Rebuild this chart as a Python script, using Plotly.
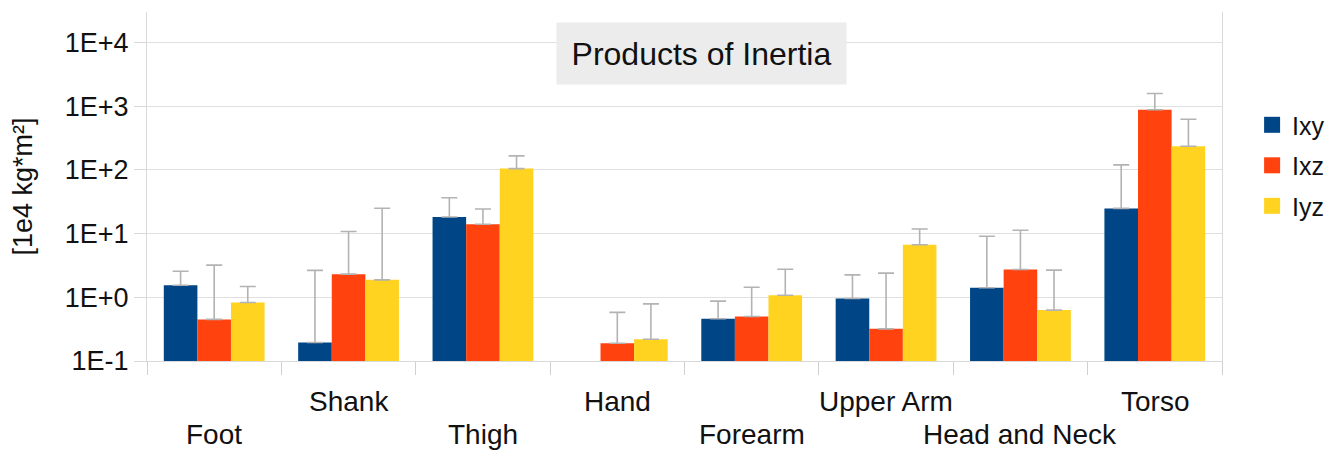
import plotly.graph_objects as go

categories = ["Foot", "Shank", "Thigh", "Hand", "Forearm", "Upper Arm", "Head and Neck", "Torso"]
series_names = ["Ixy", "Ixz", "Iyz"]
ixy = [1.55, 0.195, 18.2, None, 0.46, 0.96, 1.41, 24.9]
ixz = [0.45, 2.31, 14.0, 0.19, 0.50, 0.32, 2.74, 883]
iyz = [0.83, 1.88, 105, 0.22, 1.08, 6.7, 0.63, 235]
ixy_err_top = [2.57, 2.65, 36.5, None, 0.87, 2.25, 9.1, 120]
ixz_err_top = [3.2, 10.8, 24.3, 0.58, 1.44, 2.4, 11.3, 1585]
iyz_err_top = [1.48, 25, 166, 0.79, 2.76, 11.8, 2.67, 624]
colors = ["#004586", "#ff420e", "#ffd320"]
ytick_vals = [0.1, 1, 10, 100, 1000, 10000]
ytick_text = ["1E-1", "1E+0", "1E+1", "1E+2", "1E+3", "1E+4"]

FONT = "Liberation Sans, Arial, sans-serif"
TXT = "#111111"

fig = go.Figure()
values = [ixy, ixz, iyz]
tops = [ixy_err_top, ixz_err_top, iyz_err_top]
for name, vals, top, col in zip(series_names, values, tops, colors):
    plus = [(t - v) if (t is not None and v is not None) else None for v, t in zip(vals, top)]
    fig.add_trace(go.Bar(
        x=categories, y=vals, name=name, marker=dict(color=col, line=dict(width=0)),
        showlegend=False,
        error_y=dict(type="data", symmetric=False, array=plus,
                     arrayminus=[0] * len(vals), color="#b3b3b3", thickness=1.6, width=8),
    ))
    # legend entry
    fig.add_trace(go.Scatter(
        x=[None], y=[None], mode="markers", name=name, legendgroup=name,
        marker=dict(symbol="square", size=17, color=col),
    ))

# staggered category labels
for i, cat in enumerate(categories):
    fig.add_annotation(
        x=cat, xref="x", y=(-0.115 if i % 2 else -0.21), yref="paper",
        text=cat, showarrow=False, yanchor="middle",
        font=dict(family=FONT, size=28, color=TXT),
    )

fig.add_annotation(
    x=0.516, xref="paper", y=0.881, yref="paper", text="Products of Inertia",
    showarrow=False, xanchor="center", yanchor="middle",
    bgcolor="#ececec", width=285, height=57, borderpad=2,
    font=dict(family=FONT, size=32, color=TXT),
)

fig.update_layout(
    width=1333, height=444,
    margin=dict(l=139, r=119, t=4, b=91),
    paper_bgcolor="white", plot_bgcolor="white",
    barmode="group", bargap=0.25, bargroupgap=0,
    font=dict(family=FONT, size=27, color=TXT),
    legend=dict(x=1.028, xanchor="left", y=0.56, yanchor="middle",
                font=dict(family=FONT, size=25, color=TXT),
                tracegroupgap=5, itemwidth=30, bgcolor="rgba(0,0,0,0)"),
    xaxis=dict(showgrid=False, showticklabels=False, ticks="outside", tickson="boundaries",
               ticklen=13, tickcolor="#d0d0d0", showline=True, linecolor="#d9d9d9", linewidth=1,
               zeroline=False),
    yaxis=dict(type="log", range=[-1, 4.48], tickvals=ytick_vals, ticktext=ytick_text,
               showgrid=True, gridcolor="#e0e0e0", gridwidth=1,
               ticks="outside", ticklen=12, tickcolor="#d9d9d9",
               showline=True, mirror=True, linecolor="#d9d9d9", linewidth=1,
               tickfont=dict(family=FONT, size=27, color=TXT),
               title=dict(text="[1e4 kg*m²]", standoff=25,
                          font=dict(family=FONT, size=27, color=TXT)),
               zeroline=False),
)

fig.write_html("out.html")
